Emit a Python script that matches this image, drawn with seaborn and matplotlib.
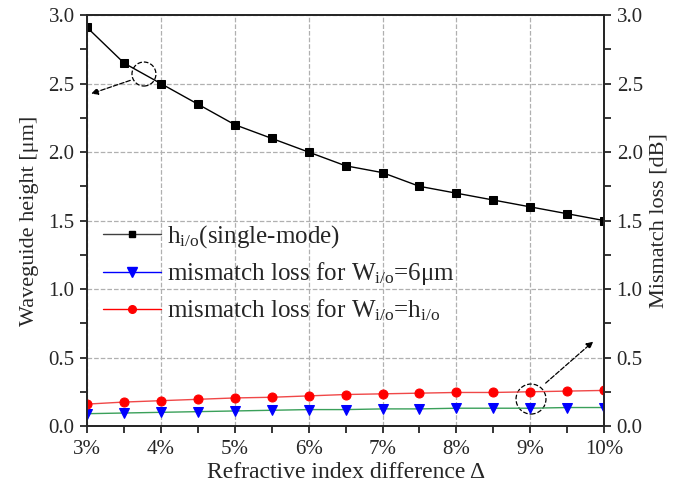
import numpy as np
import pandas as pd
import matplotlib
matplotlib.use('Agg')
import matplotlib.pyplot as plt
import seaborn as sns
from matplotlib.patches import Ellipse
from matplotlib.lines import Line2D
from matplotlib.ticker import MultipleLocator, FuncFormatter

delta = [3, 3.5, 4, 4.5, 5, 5.5, 6, 6.5, 7, 7.5, 8, 8.5, 9, 9.5, 10]
height = [2.91, 2.65, 2.50, 2.35, 2.20, 2.10, 2.00, 1.90, 1.85, 1.75, 1.70, 1.65, 1.60, 1.55, 1.50]
loss_6um = [0.09, 0.095, 0.10, 0.105, 0.11, 0.115, 0.12, 0.12, 0.125, 0.125, 0.13, 0.13, 0.13, 0.135, 0.135]
loss_h = [0.16, 0.175, 0.185, 0.195, 0.205, 0.21, 0.22, 0.23, 0.235, 0.24, 0.245, 0.245, 0.25, 0.255, 0.26]

sns.set_style('ticks')
plt.rcParams['font.family'] = ['Liberation Serif', 'DejaVu Serif']
plt.rcParams['mathtext.fontset'] = 'custom'
plt.rcParams['mathtext.rm'] = 'Liberation Serif'
plt.rcParams['mathtext.it'] = 'Liberation Serif:italic'

df = pd.DataFrame({'delta': delta, 'height': height, 'loss_6um': loss_6um, 'loss_h': loss_h})

fig, ax = plt.subplots(figsize=(6.75, 4.88), dpi=100)
fig.subplots_adjust(left=0.129, right=0.895, top=0.969, bottom=0.127)
ax2 = ax.twinx()

sns.lineplot(data=df, x='delta', y='height', ax=ax, color='black', lw=1,
             marker='s', markersize=6, markeredgecolor='black')
sns.lineplot(data=df, x='delta', y='loss_6um', ax=ax2, color='#3aa05a', lw=1,
             marker='v', markersize=7.5, markerfacecolor='blue', markeredgecolor='blue')
sns.lineplot(data=df, x='delta', y='loss_h', ax=ax2, color='#f04848', lw=1,
             marker='o', markersize=6.5, markerfacecolor='red', markeredgecolor='red')

for a in (ax, ax2):
    a.set_ylim(0, 3)
    a.yaxis.set_major_locator(MultipleLocator(0.5))
    a.yaxis.set_minor_locator(MultipleLocator(0.25))
    a.yaxis.set_major_formatter(FuncFormatter(lambda v, p: f'{v:.1f}'))
    a.tick_params(axis='y', which='both', direction='out', labelsize=15, width=1.3, length=5, pad=4)
    for s in a.spines.values():
        s.set_linewidth(1.3)
        s.set_visible(True)

ax.set_xlim(3, 10)
ax.xaxis.set_major_locator(MultipleLocator(1))
ax.xaxis.set_minor_locator(MultipleLocator(0.5))
ax.xaxis.set_major_formatter(FuncFormatter(lambda v, p: f'{v:.0f}%'))
ax.tick_params(axis='x', which='both', direction='out', labelsize=15, width=1.3, length=5, pad=5)
ax.grid(True, which='major', color='#b0b0b0', ls='--', lw=0.9)
ax.set_axisbelow(True)

ax.set_xlabel('Refractive index difference Δ', fontsize=17, labelpad=2)
ax.set_ylabel('Waveguide height [μm]', fontsize=16, labelpad=7)
ax2.set_ylabel('Mismatch loss [dB]', fontsize=16, labelpad=5)

# dashed circles with arrows pointing to the matching axis
ax.add_patch(Ellipse((3.77, 2.57), 24 / 74, 24 / 137, fill=False, ls='--', lw=0.9, color='black'))
ax.annotate('', xy=(3.02, 2.42), xytext=(3.62, 2.53),
            arrowprops=dict(arrowstyle='-|>', ls='--', lw=0.9, color='black', mutation_scale=10))
ax2.add_patch(Ellipse((9.01, 0.197), 30 / 74, 30 / 137, fill=False, ls='--', lw=0.9, color='black'))
ax2.annotate('', xy=(9.88, 0.63), xytext=(9.18, 0.30),
             arrowprops=dict(arrowstyle='-|>', ls='--', lw=0.9, color='black', mutation_scale=10))

handles = [
    Line2D([], [], color='#404040', lw=1, marker='s', markersize=5, markerfacecolor='black', markeredgecolor='black'),
    Line2D([], [], color='blue', lw=1, marker='v', markersize=6.5),
    Line2D([], [], color='red', lw=1, marker='o', markersize=5.5),
]
labels = [r'h$_{\rm i/o}$(single-mode)',
          r'mismatch loss for W$_{\rm i/o}$=6μm',
          r'mismatch loss for W$_{\rm i/o}$=h$_{\rm i/o}$']
ax.legend(handles, labels, loc='center left', bbox_to_anchor=(-0.012, 0.372), frameon=False,
          fontsize=18, handlelength=2.3, labelspacing=0.42, handletextpad=0.25)

fig.savefig('out.png', dpi=100)
